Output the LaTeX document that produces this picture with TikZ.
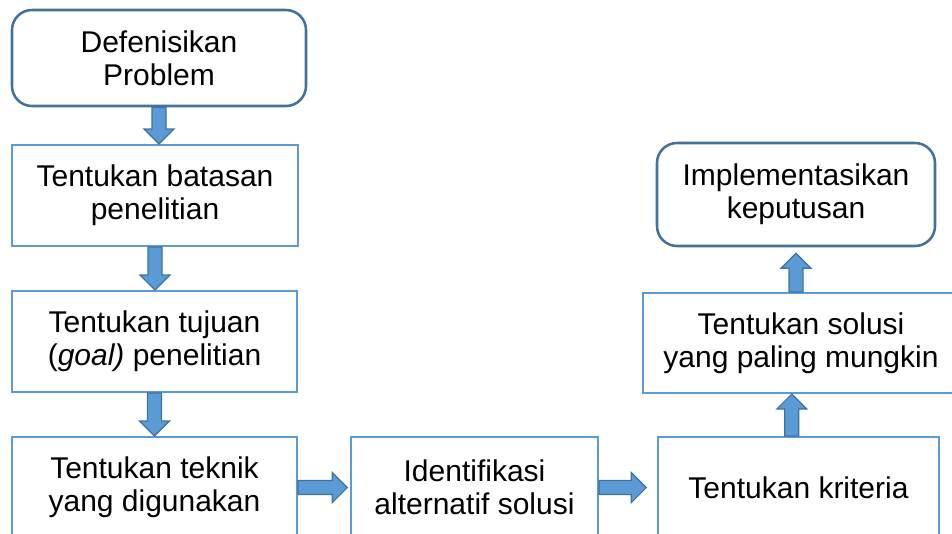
\documentclass[tikz,border=0pt]{standalone}
\usepackage{fontspec}
\setmainfont{Liberation Sans}
\usetikzlibrary{calc,positioning}
\definecolor{boxblue}{HTML}{5B9BD5}
\definecolor{darkblue}{HTML}{41719C}
\tikzset{>=stealth}
\tikzset{
  stepbox/.style={draw=boxblue, line width=1.5pt, fill=white, align=center,
    inner sep=0pt, font=\fontsize{22.5}{24.5}\selectfont},
  endbox/.style={stepbox, draw=darkblue, line width=1.9pt, rounded corners=15pt},
  fatarrow/.style={fill=boxblue, draw=darkblue, line width=0.9pt, line join=miter},
}
% block arrow from point #1 to tip #2
\newcommand{\fatarrow}[2]{%
  \coordinate (fa-h) at ($(#2)!11.25pt!(#1)$);
  \draw[fatarrow] ($(#1)!5.25pt!90:(#2)$) -- ($(fa-h)!5.25pt!90:(#2)$)
    -- ($(fa-h)!11.25pt!90:(#2)$) -- (#2) -- ($(fa-h)!11.25pt!-90:(#2)$)
    -- ($(fa-h)!5.25pt!-90:(#2)$) -- ($(#1)!5.25pt!-90:(#2)$) -- cycle;}

\begin{document}
\begin{tikzpicture}[x=0.75pt, y=-0.75pt]
			\useasboundingbox (0, 0) rectangle (952, 533);
			\clip (0, 0) rectangle (952, 533);
			% left column
			\node (b1) at (159, 58) [endbox, minimum width=220.5pt, minimum height=72pt] {Defenisikan\\Problem};
			\node (b2) at (155, 195.5) [stepbox, minimum width=214.5pt, minimum height=75.75pt] {Tentukan batasan\\penelitian};
			\node (b3) at (154.5, 341.5) [stepbox, minimum width=213.75pt, minimum height=75.75pt] {Tentukan tujuan\\(\textit{goal)} penelitian};
			\node (b4) at (154.5, 487.5) [stepbox, minimum width=213.75pt, minimum height=75.75pt] {Tentukan teknik\\yang digunakan};
			% bottom row and right column
			\node (b5) at (474.5, 487.5) [stepbox, minimum width=185.25pt, minimum height=75.75pt] {Identifikasi\\alternatif solusi};
			\node (b6) at (798.5, 487.5) [stepbox, minimum width=210.75pt, minimum height=75.75pt] {Tentukan kriteria};
			\node (b7) at (801, 343) [stepbox, minimum width=237pt, minimum height=75pt] {Tentukan solusi\\yang paling mungkin};
			\node (b8) at (796, 194.5) [endbox, minimum width=208.5pt, minimum height=77.25pt] {Implementasikan\\keputusan};
			% arrows
			\coordinate (t1) at (b1.south |- b2.north);
			\coordinate (t2) at (b2.south |- b3.north);
			\coordinate (t3) at (b3.south |- b4.north);
			\coordinate (t4) at ([xshift=-2pt]b5.west);
			\coordinate (t5) at ([xshift=-8pt]b6.west);
			\coordinate (a6) at ([xshift=-5pt]b6.north);
			\coordinate (t6) at (a6 |- b7.south);
			\coordinate (a7) at (b8.south |- b7.north);
			\coordinate (t7) at ([yshift=-4.5pt]b8.south);
			\fatarrow{b1.south}{t1}
			\fatarrow{b2.south}{t2}
			\fatarrow{b3.south}{t3}
			\fatarrow{b4.east}{t4}
			\fatarrow{b5.east}{t5}
			\fatarrow{a6}{t6}
			\fatarrow{a7}{t7}
		\end{tikzpicture}
\end{document}
